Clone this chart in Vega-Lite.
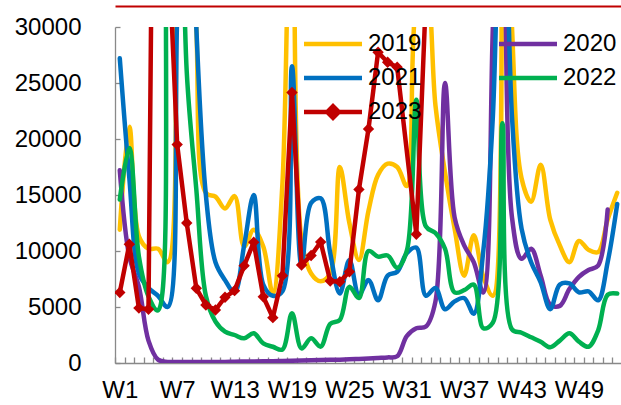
{
  "$schema": "https://vega.github.io/schema/vega-lite/v6.json",
  "width": 507,
  "height": 336,
  "padding": {"left": 14, "top": 6, "right": 0, "bottom": 0},
  "background": "white",
  "config": {
    "view": {"stroke": null},
    "font": "Liberation Sans",
    "axis": {
      "grid": false,
      "domainColor": "#898989",
      "tickColor": "#898989",
      "domainWidth": 1.3,
      "tickWidth": 1.3,
      "labelColor": "black",
      "labelFont": "Liberation Sans",
      "labelFontSize": 24,
      "title": null
    }
  },
  "data": {
    "values": [
      {"year": "2019", "week": 1, "value": 11900}, {"year": "2019", "week": 2, "value": 21100}, {"year": "2019", "week": 3, "value": 11300},
      {"year": "2019", "week": 4, "value": 10200}, {"year": "2019", "week": 5, "value": 10200}, {"year": "2019", "week": 6, "value": 9000},
      {"year": "2019", "week": 7, "value": 45000}, {"year": "2019", "week": 8, "value": 60000}, {"year": "2019", "week": 9, "value": 30000},
      {"year": "2019", "week": 10, "value": 15200}, {"year": "2019", "week": 11, "value": 14850}, {"year": "2019", "week": 12, "value": 13800},
      {"year": "2019", "week": 13, "value": 14900}, {"year": "2019", "week": 14, "value": 10400}, {"year": "2019", "week": 15, "value": 11900},
      {"year": "2019", "week": 16, "value": 10400}, {"year": "2019", "week": 17, "value": 6200}, {"year": "2019", "week": 18, "value": 16000},
      {"year": "2019", "week": 19, "value": 50000}, {"year": "2019", "week": 20, "value": 11000}, {"year": "2019", "week": 21, "value": 8000},
      {"year": "2019", "week": 22, "value": 7300}, {"year": "2019", "week": 23, "value": 8000}, {"year": "2019", "week": 24, "value": 17500},
      {"year": "2019", "week": 25, "value": 12500}, {"year": "2019", "week": 26, "value": 9200}, {"year": "2019", "week": 27, "value": 13600},
      {"year": "2019", "week": 28, "value": 16800}, {"year": "2019", "week": 29, "value": 17800}, {"year": "2019", "week": 30, "value": 17500},
      {"year": "2019", "week": 31, "value": 15800}, {"year": "2019", "week": 32, "value": 32000}, {"year": "2019", "week": 33, "value": 34000},
      {"year": "2019", "week": 34, "value": 23000}, {"year": "2019", "week": 35, "value": 17000}, {"year": "2019", "week": 36, "value": 12000},
      {"year": "2019", "week": 37, "value": 7800}, {"year": "2019", "week": 38, "value": 11400}, {"year": "2019", "week": 39, "value": 7700},
      {"year": "2019", "week": 40, "value": 6000}, {"year": "2019", "week": 41, "value": 60000}, {"year": "2019", "week": 42, "value": 30000},
      {"year": "2019", "week": 43, "value": 16500}, {"year": "2019", "week": 44, "value": 14400}, {"year": "2019", "week": 45, "value": 17700},
      {"year": "2019", "week": 46, "value": 12800}, {"year": "2019", "week": 47, "value": 10500}, {"year": "2019", "week": 48, "value": 9000},
      {"year": "2019", "week": 49, "value": 10900}, {"year": "2019", "week": 50, "value": 10100}, {"year": "2019", "week": 51, "value": 9900},
      {"year": "2019", "week": 52, "value": 12800}, {"year": "2019", "week": 53, "value": 15200},

      {"year": "2020", "week": 1, "value": 17200}, {"year": "2020", "week": 2, "value": 9500}, {"year": "2020", "week": 3, "value": 6800},
      {"year": "2020", "week": 4, "value": 2000}, {"year": "2020", "week": 5, "value": 300}, {"year": "2020", "week": 6, "value": 100},
      {"year": "2020", "week": 7, "value": 100}, {"year": "2020", "week": 8, "value": 100}, {"year": "2020", "week": 9, "value": 100},
      {"year": "2020", "week": 10, "value": 100}, {"year": "2020", "week": 11, "value": 100}, {"year": "2020", "week": 12, "value": 100},
      {"year": "2020", "week": 13, "value": 120}, {"year": "2020", "week": 14, "value": 130}, {"year": "2020", "week": 15, "value": 140},
      {"year": "2020", "week": 16, "value": 150}, {"year": "2020", "week": 17, "value": 160}, {"year": "2020", "week": 18, "value": 180},
      {"year": "2020", "week": 19, "value": 200}, {"year": "2020", "week": 20, "value": 220}, {"year": "2020", "week": 21, "value": 240},
      {"year": "2020", "week": 22, "value": 260}, {"year": "2020", "week": 23, "value": 280}, {"year": "2020", "week": 24, "value": 300},
      {"year": "2020", "week": 25, "value": 330}, {"year": "2020", "week": 26, "value": 360}, {"year": "2020", "week": 27, "value": 400},
      {"year": "2020", "week": 28, "value": 450}, {"year": "2020", "week": 29, "value": 500}, {"year": "2020", "week": 30, "value": 600},
      {"year": "2020", "week": 31, "value": 2400}, {"year": "2020", "week": 32, "value": 3100}, {"year": "2020", "week": 33, "value": 3250},
      {"year": "2020", "week": 34, "value": 5500}, {"year": "2020", "week": 35, "value": 25000}, {"year": "2020", "week": 36, "value": 13000},
      {"year": "2020", "week": 37, "value": 10500}, {"year": "2020", "week": 38, "value": 9000}, {"year": "2020", "week": 39, "value": 6300},
      {"year": "2020", "week": 40, "value": 30000}, {"year": "2020", "week": 41, "value": 60000}, {"year": "2020", "week": 42, "value": 13000},
      {"year": "2020", "week": 43, "value": 9300}, {"year": "2020", "week": 44, "value": 10200}, {"year": "2020", "week": 45, "value": 7800},
      {"year": "2020", "week": 46, "value": 5200}, {"year": "2020", "week": 47, "value": 5100}, {"year": "2020", "week": 48, "value": 6600},
      {"year": "2020", "week": 49, "value": 7700}, {"year": "2020", "week": 50, "value": 8300}, {"year": "2020", "week": 51, "value": 8700},
      {"year": "2020", "week": 52, "value": 13700},

      {"year": "2021", "week": 1, "value": 27200}, {"year": "2021", "week": 2, "value": 16500}, {"year": "2021", "week": 3, "value": 8000},
      {"year": "2021", "week": 4, "value": 6700}, {"year": "2021", "week": 5, "value": 6000}, {"year": "2021", "week": 6, "value": 5000},
      {"year": "2021", "week": 7, "value": 31000}, {"year": "2021", "week": 8, "value": 60000}, {"year": "2021", "week": 9, "value": 30000},
      {"year": "2021", "week": 10, "value": 15000}, {"year": "2021", "week": 11, "value": 9000}, {"year": "2021", "week": 12, "value": 7400},
      {"year": "2021", "week": 13, "value": 6300}, {"year": "2021", "week": 14, "value": 10500}, {"year": "2021", "week": 15, "value": 15000},
      {"year": "2021", "week": 16, "value": 7000}, {"year": "2021", "week": 17, "value": 6000}, {"year": "2021", "week": 18, "value": 6400},
      {"year": "2021", "week": 19, "value": 26500}, {"year": "2021", "week": 20, "value": 8700}, {"year": "2021", "week": 21, "value": 14300},
      {"year": "2021", "week": 22, "value": 14700}, {"year": "2021", "week": 23, "value": 9800}, {"year": "2021", "week": 24, "value": 6200},
      {"year": "2021", "week": 25, "value": 9200}, {"year": "2021", "week": 26, "value": 6100}, {"year": "2021", "week": 27, "value": 7400},
      {"year": "2021", "week": 28, "value": 5600}, {"year": "2021", "week": 29, "value": 7800}, {"year": "2021", "week": 30, "value": 8150},
      {"year": "2021", "week": 31, "value": 9800}, {"year": "2021", "week": 32, "value": 10300}, {"year": "2021", "week": 33, "value": 6000},
      {"year": "2021", "week": 34, "value": 6700}, {"year": "2021", "week": 35, "value": 4800}, {"year": "2021", "week": 36, "value": 5500},
      {"year": "2021", "week": 37, "value": 5800}, {"year": "2021", "week": 38, "value": 4400}, {"year": "2021", "week": 39, "value": 10000},
      {"year": "2021", "week": 40, "value": 22000}, {"year": "2021", "week": 41, "value": 50000}, {"year": "2021", "week": 42, "value": 22000},
      {"year": "2021", "week": 43, "value": 12000}, {"year": "2021", "week": 44, "value": 9000}, {"year": "2021", "week": 45, "value": 7200},
      {"year": "2021", "week": 46, "value": 4800}, {"year": "2021", "week": 47, "value": 7000}, {"year": "2021", "week": 48, "value": 7100},
      {"year": "2021", "week": 49, "value": 6300}, {"year": "2021", "week": 50, "value": 6400}, {"year": "2021", "week": 51, "value": 5600},
      {"year": "2021", "week": 52, "value": 9000}, {"year": "2021", "week": 53, "value": 14200},

      {"year": "2022", "week": 1, "value": 14600}, {"year": "2022", "week": 2, "value": 19200}, {"year": "2022", "week": 3, "value": 9500},
      {"year": "2022", "week": 4, "value": 5950}, {"year": "2022", "week": 5, "value": 4700}, {"year": "2022", "week": 6, "value": 45000},
      {"year": "2022", "week": 7, "value": 55000}, {"year": "2022", "week": 8, "value": 26000}, {"year": "2022", "week": 9, "value": 15500},
      {"year": "2022", "week": 10, "value": 6000}, {"year": "2022", "week": 11, "value": 3700}, {"year": "2022", "week": 12, "value": 2800},
      {"year": "2022", "week": 13, "value": 2500}, {"year": "2022", "week": 14, "value": 2200}, {"year": "2022", "week": 15, "value": 2650},
      {"year": "2022", "week": 16, "value": 1750}, {"year": "2022", "week": 17, "value": 1450}, {"year": "2022", "week": 18, "value": 1200},
      {"year": "2022", "week": 19, "value": 4450}, {"year": "2022", "week": 20, "value": 1300}, {"year": "2022", "week": 21, "value": 2200},
      {"year": "2022", "week": 22, "value": 1460}, {"year": "2022", "week": 23, "value": 3500}, {"year": "2022", "week": 24, "value": 3850},
      {"year": "2022", "week": 25, "value": 6800}, {"year": "2022", "week": 26, "value": 5800}, {"year": "2022", "week": 27, "value": 10000},
      {"year": "2022", "week": 28, "value": 9500}, {"year": "2022", "week": 29, "value": 9600}, {"year": "2022", "week": 30, "value": 8500},
      {"year": "2022", "week": 31, "value": 10000}, {"year": "2022", "week": 32, "value": 23500}, {"year": "2022", "week": 33, "value": 12200},
      {"year": "2022", "week": 34, "value": 11600}, {"year": "2022", "week": 35, "value": 10200}, {"year": "2022", "week": 36, "value": 6300},
      {"year": "2022", "week": 37, "value": 6500}, {"year": "2022", "week": 38, "value": 7000}, {"year": "2022", "week": 39, "value": 3100},
      {"year": "2022", "week": 40, "value": 3600}, {"year": "2022", "week": 41, "value": 21400}, {"year": "2022", "week": 42, "value": 3000},
      {"year": "2022", "week": 43, "value": 2700}, {"year": "2022", "week": 44, "value": 2300}, {"year": "2022", "week": 45, "value": 1900},
      {"year": "2022", "week": 46, "value": 1400}, {"year": "2022", "week": 47, "value": 2000}, {"year": "2022", "week": 48, "value": 2650},
      {"year": "2022", "week": 49, "value": 1900}, {"year": "2022", "week": 50, "value": 1450}, {"year": "2022", "week": 51, "value": 2900},
      {"year": "2022", "week": 52, "value": 6100}, {"year": "2022", "week": 53, "value": 6200},

      {"year": "2023", "week": 1, "value": 6300}, {"year": "2023", "week": 2, "value": 10600}, {"year": "2023", "week": 3, "value": 4900},
      {"year": "2023", "week": 4, "value": 4800}, {"year": "2023", "week": 5, "value": 100000}, {"year": "2023", "week": 6, "value": 39000},
      {"year": "2023", "week": 7, "value": 19500}, {"year": "2023", "week": 8, "value": 12500}, {"year": "2023", "week": 9, "value": 6670},
      {"year": "2023", "week": 10, "value": 5180}, {"year": "2023", "week": 11, "value": 4730}, {"year": "2023", "week": 12, "value": 5870},
      {"year": "2023", "week": 13, "value": 6460}, {"year": "2023", "week": 14, "value": 8690}, {"year": "2023", "week": 15, "value": 10780},
      {"year": "2023", "week": 16, "value": 5920}, {"year": "2023", "week": 17, "value": 4050}, {"year": "2023", "week": 18, "value": 7800},
      {"year": "2023", "week": 19, "value": 24150}, {"year": "2023", "week": 20, "value": 8750}, {"year": "2023", "week": 21, "value": 9600},
      {"year": "2023", "week": 22, "value": 10800}, {"year": "2023", "week": 23, "value": 7320}, {"year": "2023", "week": 24, "value": 7260},
      {"year": "2023", "week": 25, "value": 8150}, {"year": "2023", "week": 26, "value": 15500}, {"year": "2023", "week": 27, "value": 20900},
      {"year": "2023", "week": 28, "value": 27750}, {"year": "2023", "week": 29, "value": 26850}, {"year": "2023", "week": 30, "value": 26400},
      {"year": "2023", "week": 32, "value": 11500}, {"year": "2023", "week": 33, "value": 32700}
    ]
  },
  "encoding": {
    "x": {
      "field": "week",
      "type": "ordinal",
      "axis": {
        "orient": "bottom",
        "labelAngle": 0,
        "labelOverlap": false,
        "labelExpr": "(datum.value - 1) % 6 == 0 ? 'W' + datum.value : ''",
        "tickSize": -6,
        "tickOffset": -4.78,
        "labelOffset": 4.78,
        "labelPadding": 21
      }
    },
    "y": {
      "field": "value",
      "type": "quantitative",
      "scale": {"domain": [0, 30000], "nice": false},
      "axis": {
        "values": [0, 5000, 10000, 15000, 20000, 25000, 30000],
        "format": "d",
        "tickSize": -5,
        "labelPadding": 39
      }
    },
    "color": {
      "field": "year",
      "type": "nominal",
      "scale": {
        "domain": ["2019", "2021", "2023", "2020", "2022"],
        "range": ["#FFC000", "#0070C0", "#C00000", "#7030A0", "#00B050"]
      },
      "legend": {
        "orient": "none",
        "legendX": 201,
        "legendY": 0,
        "columns": 2,
        "title": null,
        "padding": 0,
        "symbolType": "M-2,0L2,0",
        "symbolSize": 841,
        "symbolStrokeWidth": 4.5,
        "labelFont": "Liberation Sans",
        "labelFontSize": 24,
        "labelColor": "black",
        "labelOffset": 18,
        "columnPadding": 68,
        "rowPadding": 5,
        "encode": {
          "symbols": {
            "update": {
              "shape": {"signal": "datum.value == '2023' ? 'M-2,0L2,0M-0.4,0L0,-0.4L0.4,0L0,0.4Z' : 'M-2,0L2,0'"},
              "fill": {"signal": "datum.value == '2023' ? '#C00000' : 'transparent'"}
            }
          }
        }
      }
    }
  },
  "layer": [
    {
      "transform": [{"filter": "datum.year != '2023'"}],
      "mark": {"type": "line", "interpolate": "catmull-rom", "strokeWidth": 4.5, "strokeCap": "round", "strokeJoin": "round", "clip": true}
    },
    {
      "transform": [{"filter": "datum.year == '2023'"}],
      "mark": {"type": "line", "strokeWidth": 4.5, "strokeCap": "round", "strokeJoin": "round", "clip": true},
      "encoding": {
        "x": {"field": "week", "type": "ordinal", "axis": null}
      }
    },
    {
      "transform": [{"filter": "datum.year == '2023'"}],
      "mark": {"type": "point", "shape": "diamond", "filled": true, "size": 130, "opacity": 1, "clip": true},
      "encoding": {
        "color": {"value": "#C00000"},
        "x": {
          "field": "week",
          "type": "ordinal",
          "axis": {"orient": "top", "offset": 21, "ticks": false, "labels": false, "domainColor": "#C00000", "domainWidth": 2, "title": null}
        }
      }
    }
  ],
  "resolve": {"axis": {"x": "independent"}}
}
